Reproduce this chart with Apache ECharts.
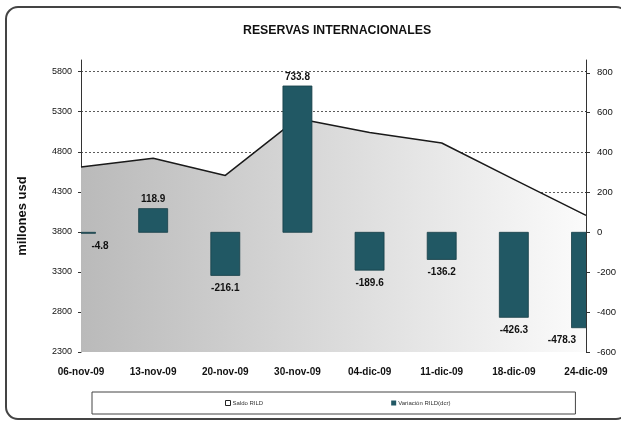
<!DOCTYPE html>
<html>
<head>
<meta charset="utf-8">
<script src="https://cdn.jsdelivr.net/npm/echarts@6/dist/echarts.min.js"></script>
<style>
html,body{margin:0;padding:0;background:#fff;overflow:hidden;}
#frame{position:absolute;left:5px;top:6px;width:624px;height:414px;border:2px solid #444;border-radius:13px;box-sizing:border-box;}
#chart{position:absolute;left:0;top:0;width:621px;height:421px;}
</style>
</head>
<body>
<div id="frame"></div>
<div id="chart"></div>
<script>
const categories = ["06-nov-09","13-nov-09","20-nov-09","30-nov-09","04-dic-09","11-dic-09","18-dic-09","24-dic-09"];
const saldoRILD = [4610, 4720, 4505, 5215, 5040, 4910, 4455, 4006];
const variacionRILD = [-4.8, 118.9, -216.1, 733.8, -189.6, -136.2, -426.3, -478.3];
const seriesNames = ["Saldo RILD", "Variación RILD(dcr)"];
const titleText = "RESERVAS INTERNACIONALES";
const yAxisName = "millones usd";

const FONT = '"Liberation Sans", Arial, sans-serif';
const BAR_COLOR = '#215864';
const chart = echarts.init(document.getElementById('chart'), null, {renderer:'canvas'});

const barData = variacionRILD.map((v, i) => [i, v]);
const labelOffsets = {0: 19, 7: -24};

function renderBar(params, api) {
  const i = api.value(0), v = api.value(1);
  const p0 = api.coord([i, 0]);
  const p1 = api.coord([i, v]);
  const w = 29;
  const top = Math.min(p0[1], p1[1]);
  const h = Math.max(Math.abs(p0[1] - p1[1]), 1);
  const pos = v >= 0;
  const dx = labelOffsets[i] || 0;
  return {
    type: 'group',
    children: [
      {
        type: 'rect',
        shape: {x: p0[0] - w / 2, y: top, width: w, height: h},
        style: {fill: BAR_COLOR, stroke: '#173f48', lineWidth: 0.8}
      },
      {
        type: 'text',
        style: {
          text: v.toFixed(1),
          x: p1[0] + dx,
          y: pos ? p1[1] - 4 : p1[1] + 8,
          align: 'center',
          verticalAlign: pos ? 'bottom' : 'top',
          font: 'bold 10px ' + FONT,
          fill: '#111'
        }
      }
    ]
  };
}

chart.setOption({
  backgroundColor: 'transparent',
  animation: false,
  textStyle: {fontFamily: FONT},
  title: {
    text: titleText, left: 243, top: 25, padding: 0,
    textStyle: {fontSize: 12.3, fontWeight: 'bold', color: '#111', fontFamily: FONT}
  },
  legend: {
    left: 92, top: 392,
    padding: [8, 125, 8, 133],
    itemGap: 128,
    itemWidth: 5, itemHeight: 5,
    borderColor: '#444', borderWidth: 1,
    textStyle: {fontSize: 6, color: '#333', fontFamily: FONT, padding: [0,0,0,-3]},
    data: [
      {name: seriesNames[0], icon: 'rect', itemStyle: {color: '#fff', borderColor: '#222', borderWidth: 1}},
      {name: seriesNames[1], icon: 'rect', itemStyle: {color: BAR_COLOR}}
    ]
  },
  grid: {left: 81, right: 35, top: 60, bottom: 69},
  xAxis: {
    type: 'category', data: categories, boundaryGap: false,
    axisLine: {lineStyle: {color: '#333', width: 1}},
    axisTick: {show: true, length: 3, lineStyle: {color: '#333'}},
    axisLabel: {fontSize: 10, fontWeight: 'bold', color: '#111', margin: 15, fontFamily: FONT}
  },
  yAxis: [
    {
      type: 'value', min: 2300, max: 5946, interval: 500,
      name: yAxisName, nameLocation: 'middle', nameGap: 52,
      nameTextStyle: {fontSize: 13, fontWeight: 'bold', color: '#111', fontFamily: FONT, padding: [0, 20, 0, 0]},
      axisLine: {show: true, lineStyle: {color: '#333'}},
      axisTick: {show: true, length: 3, lineStyle: {color: '#333'}},
      axisLabel: {fontSize: 9, color: '#111', margin: 9, showMaxLabel: false, fontFamily: FONT, formatter: v => String(v)},
      splitLine: {show: true, showMaxLine: false, showMinLine: false, lineStyle: {color: '#333', type: [2, 2], width: 0.8}}
    },
    {
      type: 'value', min: -600, max: 864, interval: 200, position: 'right',
      axisLine: {show: true, lineStyle: {color: '#333'}},
      axisTick: {show: true, length: 4, lineStyle: {color: '#333'}},
      axisLabel: {fontSize: 9.5, color: '#111', margin: 11, showMaxLabel: false, fontFamily: FONT, formatter: v => String(v)},
      splitLine: {show: false}
    }
  ],
  series: [
    {
      name: seriesNames[0], type: 'line', yAxisIndex: 0, data: saldoRILD,
      symbol: 'none', z: 2,
      lineStyle: {color: '#1a1a1a', width: 1.5},
      itemStyle: {color: '#fff', borderColor: '#222'},
      areaStyle: {
        opacity: 1,
        color: new echarts.graphic.LinearGradient(0, 0, 1, 0, [
          {offset: 0, color: '#bababa'},
          {offset: 1, color: '#fbfbfb'}
        ])
      }
    },
    {
      name: seriesNames[1], type: 'custom', xAxisIndex: 0, yAxisIndex: 1,
      data: barData, encode: {x: 0, y: 1}, clip: true, z: 3,
      itemStyle: {color: BAR_COLOR},
      renderItem: renderBar
    }
  ]
});
</script>
</body>
</html>
